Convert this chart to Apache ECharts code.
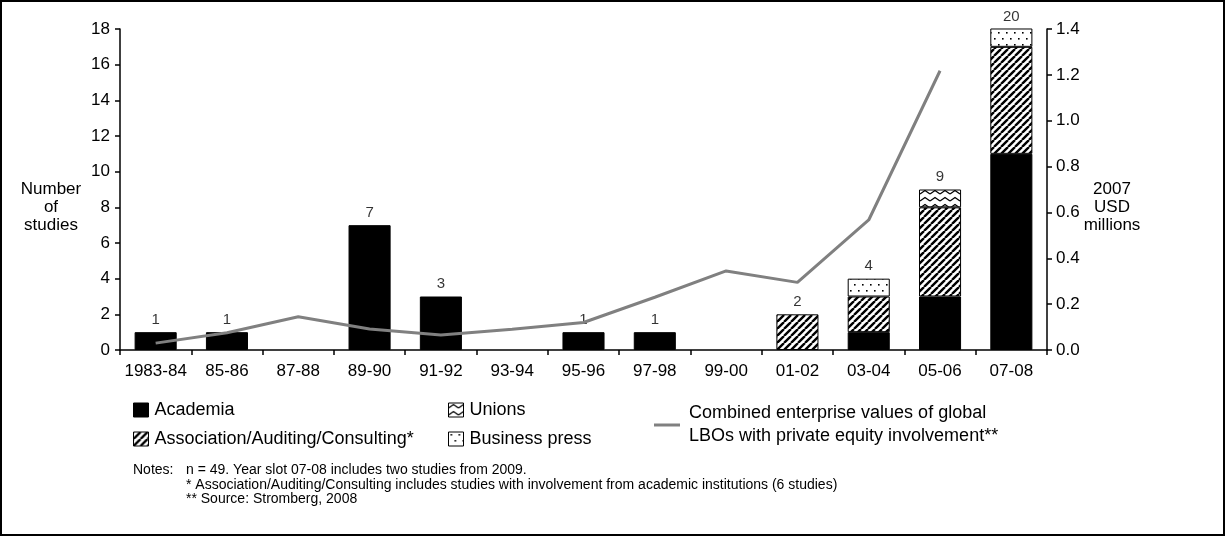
<!DOCTYPE html>
<html>
<head>
<meta charset="utf-8">
<script src="https://cdn.jsdelivr.net/npm/echarts@6/dist/echarts.min.js"></script>
<style>
html,body{margin:0;padding:0;background:#fff;}
#chart{width:1226px;height:537px;}
</style>
</head>
<body>
<div id="chart"></div>
<script>
// ---- data ----
const categories = ['1983-84','85-86','87-88','89-90','91-92','93-94','95-96','97-98','99-00','01-02','03-04','05-06','07-08'];
const academia   = [1,1,0,7,3,0,1,1,0,0,1,3,11];
const association= [0,0,0,0,0,0,0,0,0,2,2,5,6];
const unions     = [0,0,0,0,0,0,0,0,0,0,0,1,0];
const press      = [0,0,0,0,0,0,0,0,0,0,1,0,3];
const lboValues  = [0.03,0.075,0.145,0.092,0.065,0.09,0.12,0.23,0.345,0.295,0.567,1.218,null];
const leftTicks  = {min:0,max:18,interval:2};
const rightTicks = {min:0,max:1.4,interval:0.2};

const FONT = '"Liberation Sans", Arial, sans-serif';

// ---- patterns ----
function hatchPattern(){
  const c=document.createElement('canvas');c.width=7;c.height=7;
  const g=c.getContext('2d');g.fillStyle='#fff';g.fillRect(0,0,7,7);
  g.strokeStyle='#000';g.lineWidth=2.4;
  g.beginPath();
  for(let k=-7;k<=14;k+=7){g.moveTo(k,7);g.lineTo(k+7,0);}
  g.stroke();return c;
}
function dotPattern(){
  const c=document.createElement('canvas');c.width=8;c.height=12;
  const g=c.getContext('2d');g.fillStyle='#fff';g.fillRect(0,0,8,12);
  g.fillStyle='#000';
  g.fillRect(2,2,1.6,1.6);g.fillRect(6,8,1.6,1.6);
  return c;
}
function wavePattern(){
  const c=document.createElement('canvas');c.width=10;c.height=7;
  const g=c.getContext('2d');g.fillStyle='#fff';g.fillRect(0,0,10,7);
  g.strokeStyle='#000';g.lineWidth=1.3;
  g.beginPath();g.moveTo(0,5);g.lineTo(5,1.5);g.lineTo(10,5);g.stroke();
  return c;
}
const hatch={image:hatchPattern(),repeat:'repeat'};
const dots={image:dotPattern(),repeat:'repeat'};
const wave={image:wavePattern(),repeat:'repeat'};

const totals = categories.map((_,i)=>academia[i]+association[i]+unions[i]+press[i]);
const nz = a => a.map(v => v===0 ? null : v);
const lineName = 'Combined enterprise values of global\nLBOs with private equity involvement**';

const chart = echarts.init(document.getElementById('chart'));
const barCommon = {type:'bar',stack:'s',barWidth:'59%',yAxisIndex:0};
const legendText = {fontSize:18,color:'#000',fontFamily:FONT,padding:[0,0,0,1]};
chart.setOption({
  animation:false,
  textStyle:{fontFamily:FONT,color:'#000'},
  grid:{left:120,right:179,top:29,bottom:187,containLabel:false},
  xAxis:{type:'category',data:categories,boundaryGap:true,
    axisLine:{lineStyle:{color:'#000',width:1.5}},
    axisTick:{show:true,length:5,lineStyle:{color:'#000',width:1.5}},
    axisLabel:{color:'#000',fontSize:17,margin:13,fontFamily:FONT,interval:0}},
  yAxis:[
    {type:'value',min:leftTicks.min,max:leftTicks.max,interval:leftTicks.interval,
     axisLine:{show:true,lineStyle:{color:'#000',width:1.5}},
     axisTick:{show:true,length:5,lineStyle:{color:'#000',width:1.5}},
     splitLine:{show:false},
     axisLabel:{color:'#000',fontSize:17,margin:10,fontFamily:FONT}},
    {type:'value',position:'right',min:rightTicks.min,max:rightTicks.max,interval:rightTicks.interval,
     axisLine:{show:true,lineStyle:{color:'#000',width:1.5}},
     axisTick:{show:true,length:5,lineStyle:{color:'#000',width:1.5}},
     splitLine:{show:false},
     axisLabel:{color:'#000',fontSize:17,margin:9,fontFamily:FONT,formatter:v=>v.toFixed(1)}}
  ],
  legend:[
    {data:['Academia','Association/Auditing/Consulting*'],orient:'vertical',left:128,top:396,
     itemWidth:15,itemHeight:14,itemGap:11,icon:'rect',
     itemStyle:{borderColor:'#000',borderWidth:1},
     textStyle:legendText},
    {data:['Unions','Business press'],orient:'vertical',left:443,top:396,
     itemWidth:15,itemHeight:14,itemGap:11,icon:'rect',
     itemStyle:{borderColor:'#000',borderWidth:1},
     textStyle:legendText},
    {data:[lineName],orient:'vertical',left:649,top:397,
     itemWidth:26,itemHeight:3,icon:'rect',
     textStyle:{fontSize:18,color:'#000',fontFamily:FONT,lineHeight:23,padding:[0,0,0,4]}}
  ],
  series:[
    Object.assign({name:'Academia',data:nz(academia),itemStyle:{color:'#000',borderColor:'#000',borderWidth:1}},barCommon),
    Object.assign({name:'Association/Auditing/Consulting*',data:nz(association),itemStyle:{color:hatch,borderColor:'#000',borderWidth:1}},barCommon),
    Object.assign({name:'Unions',data:nz(unions),itemStyle:{color:wave,borderColor:'#000',borderWidth:1}},barCommon),
    Object.assign({name:'Business press',data:nz(press),itemStyle:{color:dots,borderColor:'#000',borderWidth:1}},barCommon),
    {name:'totals',type:'scatter',yAxisIndex:0,symbolSize:0,silent:true,
     data:totals.map((t,i)=> t>0 ? [i, Math.min(t, leftTicks.max)] : null),
     label:{show:true,position:'top',distance:5,fontSize:15,color:'#000',fontFamily:FONT,
       formatter:p=>String(totals[p.dataIndex])}},
    {name:lineName,type:'line',yAxisIndex:1,data:lboValues,symbol:'none',
     lineStyle:{color:'#808080',width:3},itemStyle:{color:'#808080'},z:5}
  ],
  graphic:[
    {type:'rect',shape:{x:1,y:1,width:1223,height:534},style:{fill:null,stroke:'#000',lineWidth:2}},
    {type:'text',x:51,y:180,style:{text:'Number\nof\nstudies',font:'17px '+FONT,fill:'#000',align:'center',verticalAlign:'top',lineHeight:18}},
    {type:'text',x:1112,y:180,style:{text:'2007\nUSD\nmillions',font:'17px '+FONT,fill:'#000',align:'center',verticalAlign:'top',lineHeight:18}},
    {type:'text',x:133,y:463,style:{text:'Notes:',font:'14px '+FONT,fill:'#000',verticalAlign:'top'}},
    {type:'text',x:186,y:463,style:{text:'n = 49. Year slot 07-08 includes two studies from 2009.\n* Association/Auditing/Consulting includes studies with involvement from academic institutions (6 studies)\n** Source: Stromberg, 2008',font:'14px '+FONT,fill:'#000',lineHeight:14.5,verticalAlign:'top'}}
  ]
});
</script>
</body>
</html>
